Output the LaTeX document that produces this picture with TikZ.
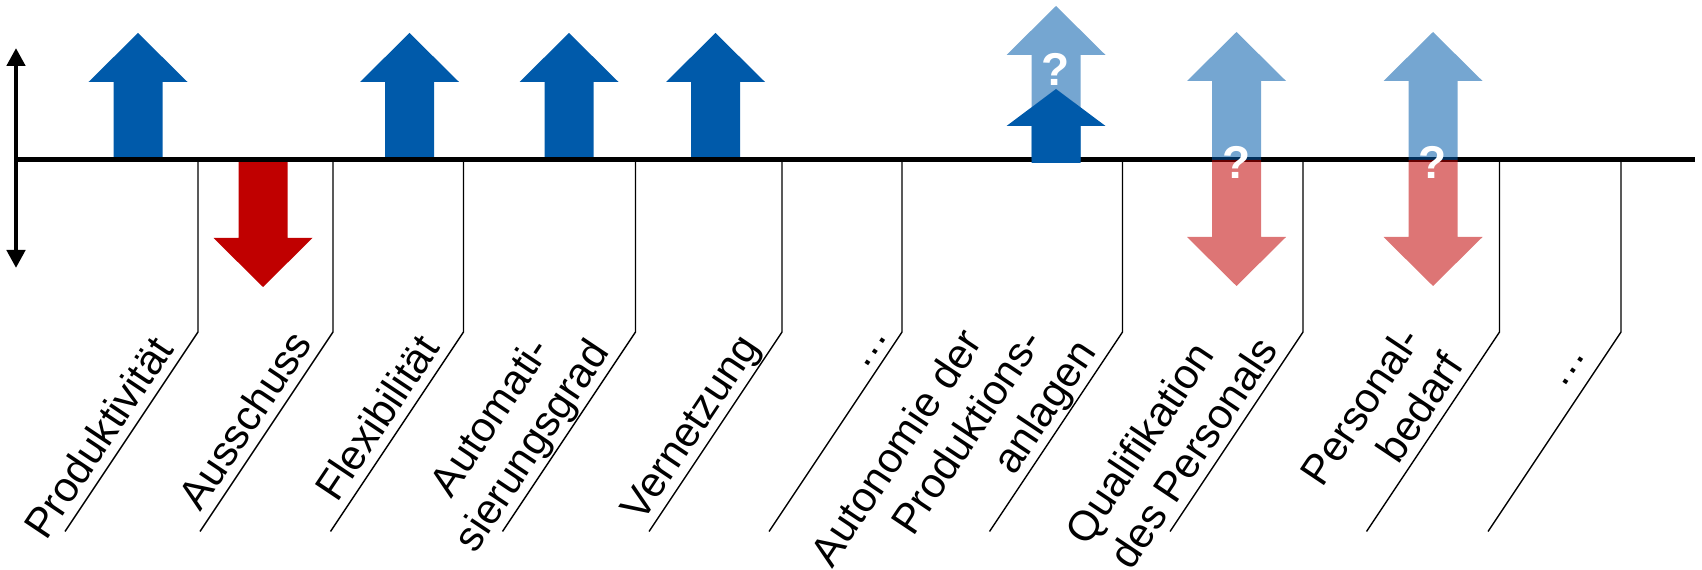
\documentclass[tikz,border=0pt]{standalone}
\usepackage{fontspec}
\setmainfont{Liberation Sans}
\usetikzlibrary{arrows.meta}

\definecolor{tendblue}{RGB}{0,90,170}
\definecolor{tendred}{RGB}{192,0,0}

% block arrow: #1 style, #2 centre x, #3 base y, #4 head base y, #5 tip y, #6 head half width
\newcommand\blockarrow[6]{%
  \fill[#1] ({#2-24.5},#3) -- ({#2-24.5},#4) -- ({#2-#6},#4) -- (#2,#5)
    -- ({#2+#6},#4) -- ({#2+24.5},#4) -- ({#2+24.5},#3) -- cycle;}

\tikzset{
  separator/.style={line width=1.4pt, line join=miter},
  axisline/.style={line width=5pt},
  scaleaxis/.style={line width=4.5pt,
    {Triangle[width=18pt,length=18pt]}-{Triangle[width=18pt,length=18pt]}},
  upblue/.style={fill=tendblue},
  downred/.style={fill=tendred},
  vagueblue/.style={fill=tendblue, fill opacity=0.54},
  vaguered/.style={fill=tendred, fill opacity=0.54},
  lbl/.style={anchor=base west, inner sep=0pt, rotate=56.25,
    font=\fontsize{42}{50}\selectfont},
  qmark/.style={text=white, inner sep=0pt,
    font=\fontsize{46}{50}\selectfont\bfseries},
}

\begin{document}
\begin{tikzpicture}[x=1pt, y=1pt]
\useasboundingbox (0,0) rectangle (1702,570);

% separators between the categories
\foreach \x [count=\i] in {198,333,463.5,635.5,782,902,1122.5,1303,1499.5,1621} {
  \coordinate (top\i) at (\x,410);
  \coordinate (knee\i) at (\x,238);
  \coordinate (foot\i) at ({\x-133},38.5);
  \draw[separator] (top\i) -- (knee\i) -- (foot\i);
}

% clear tendencies
\blockarrow{upblue}{138}{410}{488}{537}{49.5}
\blockarrow{downred}{263}{410}{332}{283}{49.5}
\blockarrow{upblue}{409.5}{410}{488}{537}{49.5}
\blockarrow{upblue}{569}{410}{488}{537}{49.5}
\blockarrow{upblue}{715.5}{410}{488}{537}{49.5}

% base line and scale
\coordinate (axisL) at (16,410);
\coordinate (axisR) at (1695,410);
\coordinate (scaleTop) at (16,522);
\coordinate (scaleBot) at (16,302);
\draw[axisline] (axisL) -- (axisR);
\draw[scaleaxis] (scaleBot) -- (scaleTop);

% uncertain tendencies
\blockarrow{vagueblue}{1056}{410}{515}{564}{49.5}
\blockarrow{upblue}{1056}{407}{444}{481}{49.5}
\blockarrow{vagueblue}{1236.5}{410}{489}{538}{49.5}
\blockarrow{vaguered}{1236.5}{410}{333}{284}{49.5}
\blockarrow{vagueblue}{1433}{410}{489}{538}{49.5}
\blockarrow{vaguered}{1433}{410}{333}{284}{49.5}

\node[qmark] (q1) at (1056,501) {?};
\node[qmark] (q2) at (1236.5,408) {?};
\node[qmark] (q3) at (1433,408) {?};

% category labels along the slanted lines
\begin{scope}[shift={(foot1)}, rotate=56.25]
  \node[lbl] (lab1) at (-19,10) {Produktivität};
\end{scope}
\begin{scope}[shift={(foot2)}, rotate=56.25]
  \node[lbl] (lab2) at (16,10) {Ausschuss};
\end{scope}
\begin{scope}[shift={(foot3)}, rotate=56.25]
  \node[lbl] (lab3) at (27,10) {Flexibilität};
\end{scope}
\begin{scope}[shift={(foot4)}, rotate=56.25]
  \node[lbl] (lab4a) at (-1.5,60) {Automati-};
  \node[lbl] (lab4b) at (-34,10) {sierungsgrad};
\end{scope}
\begin{scope}[shift={(foot5)}, rotate=56.25]
  \node[lbl] (lab5) at (3,10) {Vernetzung};
\end{scope}
\begin{scope}[shift={(foot6)}, rotate=56.25]
  \node[lbl] (lab6) at (187,9) {…};
\end{scope}
\begin{scope}[shift={(foot7)}, rotate=56.25]
  \node[lbl] (lab7a) at (-119,110) {Autonomie der};
  \node[lbl] (lab7b) at (-48,60) {Produktions-};
  \node[lbl] (lab7c) at (59,10) {anlagen};
\end{scope}
\begin{scope}[shift={(foot8)}, rotate=56.25]
  \node[lbl] (lab8a) at (-59,60) {Qualifikation};
  \node[lbl] (lab8b) at (-55,10) {des Personals};
\end{scope}
\begin{scope}[shift={(foot9)}, rotate=56.25]
  \node[lbl] (lab9a) at (11,60) {Personal-};
  \node[lbl] (lab9b) at (73,10) {bedarf};
\end{scope}
\begin{scope}[shift={(foot10)}, rotate=56.25]
  \node[lbl] (lab10) at (160,16) {…};
\end{scope}
\end{tikzpicture}
\end{document}
